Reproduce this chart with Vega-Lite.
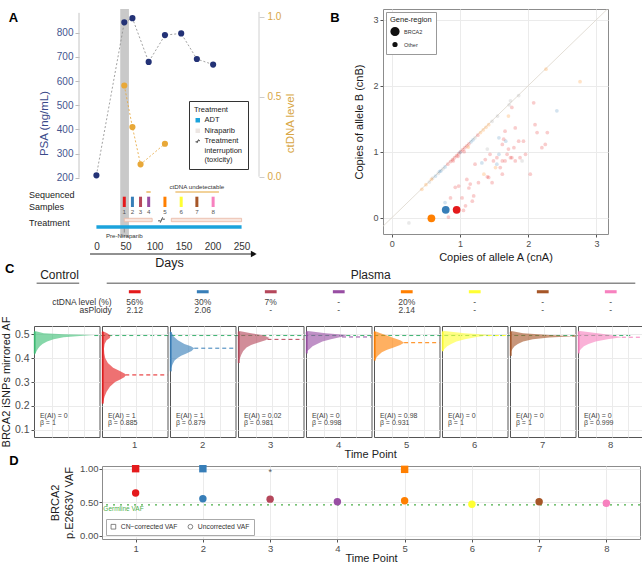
{
"$schema": "https://vega.github.io/schema/vega-lite/v6.json",
"padding": {"left": 0, "top": 8, "right": 0, "bottom": 0},
"background": "white",
"spacing": -7,
"resolve": {"scale": {"color": "independent", "fill": "independent", "stroke": "independent", "size": "independent", "shape": "independent", "opacity": "independent"},
            "legend": {"color": "independent", "fill": "independent", "stroke": "independent", "size": "independent", "shape": "independent", "opacity": "independent"}},
"config": {
  "font": "Liberation Sans",
  "view": {"stroke": null},
  "axis": {"labelFont": "Liberation Sans", "titleFont": "Liberation Sans", "titleFontWeight": "normal", "labelColor": "#4d4d4d", "titleColor": "#1a1a1a", "gridColor": "#ebebeb", "tickColor": "#555555", "domain": false, "labelOverlap": false},
  "legend": {"labelFont": "Liberation Sans", "titleFont": "Liberation Sans", "titleFontWeight": "normal"},
  "header": {"labelFont": "Liberation Sans"},
  "text": {"font": "Liberation Sans"}
},
"datasets": {
  "psa": [{"day":0,"psa":210},{"day":48,"psa":843},{"day":62,"psa":860},{"day":90,"psa":679},{"day":118,"psa":790},{"day":146,"psa":797},{"day":173,"psa":691},{"day":201,"psa":668}],
  "ct": [{"day":48,"ct":0.57},{"day":62,"ct":0.31},{"day":76,"ct":0.077},{"day":118,"ct":0.206}],
  "samples": [{"s":"1","day":48},{"s":"2","day":62},{"s":"3","day":76},{"s":"4","day":90},{"s":"5","day":118},{"s":"6","day":146},{"s":"7","day":173},{"s":"8","day":201}],
  "treat": [{"treat":"ADT","start":0,"end":250},{"treat":"Niraparib","start":48,"end":96},{"treat":"Niraparib","start":129,"end":250}],
  "treatLeg": [{"treat":"ADT","day":48},{"treat":"Niraparib","day":48},{"treat":"Treatment interruption (toxicity)","day":112}],
  "undet": [{"from":86,"to":93.5},{"from":136,"to":211}],
  "cn": [
    {"a":0.44,"b":0.43,"s":"5","g":"Other"},{"a":0.5,"b":0.5,"s":"5","g":"Other"},{"a":0.55,"b":0.54,"s":"o","g":"Other"},{"a":0.6,"b":0.6,"s":"o","g":"Other"},{"a":0.64,"b":0.63,"s":"2","g":"Other"},{"a":0.68,"b":0.67,"s":"o","g":"Other"},{"a":0.72,"b":0.71,"s":"2","g":"Other"},{"a":0.75,"b":0.74,"s":"o","g":"Other"},{"a":0.78,"b":0.77,"s":"2","g":"Other"},{"a":0.82,"b":0.81,"s":"1","g":"Other"},{"a":0.86,"b":0.85,"s":"1","g":"Other"},{"a":0.89,"b":0.88,"s":"1","g":"Other"},{"a":0.92,"b":0.91,"s":"1","g":"Other"},{"a":0.95,"b":0.94,"s":"1","g":"Other"},{"a":0.98,"b":0.97,"s":"1","g":"Other"},{"a":1.01,"b":1.0,"s":"1","g":"Other"},{"a":1.04,"b":1.03,"s":"1","g":"Other"},{"a":1.07,"b":1.06,"s":"1","g":"Other"},{"a":1.1,"b":1.09,"s":"1","g":"Other"},{"a":1.13,"b":1.12,"s":"1","g":"Other"},{"a":1.16,"b":1.15,"s":"2","g":"Other"},{"a":1.19,"b":1.18,"s":"2","g":"Other"},{"a":1.22,"b":1.21,"s":"o","g":"Other"},{"a":1.26,"b":1.25,"s":"1","g":"Other"},{"a":1.3,"b":1.29,"s":"5","g":"Other"},{"a":1.34,"b":1.33,"s":"5","g":"Other"},{"a":1.38,"b":1.37,"s":"5","g":"Other"},{"a":1.42,"b":1.41,"s":"5","g":"Other"},{"a":1.47,"b":1.46,"s":"o","g":"Other"},{"a":1.55,"b":1.54,"s":"o","g":"Other"},{"a":1.72,"b":1.71,"s":"o","g":"Other"},{"a":1.86,"b":1.85,"s":"o","g":"Other"},{"a":2.26,"b":2.25,"s":"5","g":"Other"},{"a":0.97,"b":0.93,"s":"1","g":"Other"},{"a":1.06,"b":1.0,"s":"1","g":"Other"},{"a":1.12,"b":1.07,"s":"5","g":"Other"},{"a":0.9,"b":0.86,"s":"1","g":"Other"},{"a":0.58,"b":0.58,"s":"5","g":"Other"},{"a":0.7,"b":0.7,"s":"2","g":"Other"},{"a":1.0,"b":0.99,"s":"2","g":"Other"},
    {"a":0.25,"b":-0.08,"s":"o","g":"Other"},{"a":0.78,"b":0.23,"s":"2","g":"Other"},{"a":0.83,"b":0.01,"s":"1","g":"Other"},{"a":0.98,"b":0.48,"s":"1","g":"Other"},{"a":0.93,"b":0.46,"s":"1","g":"Other"},{"a":1.13,"b":0.45,"s":"1","g":"Other"},{"a":1.08,"b":0.18,"s":"1","g":"Other"},{"a":1.05,"b":0.11,"s":"1","g":"Other"},{"a":1.18,"b":0.25,"s":"1","g":"Other"},{"a":1.2,"b":0.33,"s":"1","g":"Other"},{"a":1.22,"b":0.81,"s":"1","g":"Other"},{"a":1.32,"b":0.83,"s":"2","g":"Other"},{"a":1.37,"b":0.88,"s":"1","g":"Other"},{"a":1.4,"b":1.04,"s":"o","g":"Other"},{"a":1.42,"b":0.61,"s":"1","g":"Other"},{"a":1.35,"b":0.66,"s":"5","g":"Other"},{"a":1.49,"b":0.86,"s":"1","g":"Other"},{"a":1.54,"b":0.81,"s":"2","g":"Other"},{"a":1.57,"b":1.21,"s":"2","g":"Other"},{"a":1.62,"b":1.11,"s":"1","g":"Other"},{"a":1.64,"b":1.19,"s":"1","g":"Other"},{"a":1.67,"b":1.16,"s":"2","g":"Other"},{"a":1.69,"b":0.96,"s":"1","g":"Other"},{"a":1.71,"b":1.04,"s":"1","g":"Other"},{"a":1.74,"b":0.91,"s":"1","g":"Other"},{"a":1.76,"b":0.91,"s":"1","g":"Other"},{"a":1.79,"b":1.06,"s":"1","g":"Other"},{"a":1.81,"b":0.86,"s":"1","g":"Other"},{"a":1.86,"b":1.16,"s":"1","g":"Other"},{"a":1.88,"b":0.91,"s":"1","g":"Other"},{"a":1.91,"b":0.86,"s":"o","g":"Other"},{"a":1.93,"b":1.16,"s":"1","g":"Other"},{"a":1.96,"b":0.96,"s":"1","g":"Other"},{"a":1.81,"b":1.36,"s":"1","g":"Other"},{"a":1.71,"b":1.54,"s":"5","g":"Other"},{"a":1.76,"b":1.67,"s":"1","g":"Other"},{"a":1.74,"b":1.77,"s":"o","g":"Other"},{"a":1.66,"b":1.31,"s":"1","g":"Other"},{"a":2.08,"b":1.74,"s":"1","g":"Other"},{"a":2.1,"b":1.41,"s":"1","g":"Other"},{"a":2.13,"b":1.29,"s":"1","g":"Other"},{"a":2.28,"b":1.29,"s":"1","g":"Other"},{"a":2.2,"b":1.06,"s":"1","g":"Other"},{"a":2.25,"b":1.11,"s":"1","g":"Other"},{"a":2.42,"b":1.62,"s":"2","g":"Other"},{"a":2.76,"b":2.06,"s":"5","g":"Other"},{"a":2.03,"b":0.66,"s":"1","g":"Other"},{"a":1.62,"b":0.66,"s":"1","g":"Other"},{"a":1.52,"b":0.76,"s":"5","g":"Other"},{"a":1.47,"b":0.53,"s":"1","g":"Other"},{"a":1.4,"b":0.62,"s":"1","g":"Other"},{"a":1.27,"b":0.53,"s":"1","g":"Other"},{"a":1.15,"b":0.51,"s":"1","g":"Other"},{"a":1.1,"b":0.58,"s":"1","g":"Other"},{"a":1.03,"b":0.3,"s":"1","g":"Other"},{"a":0.86,"b":0.3,"s":"1","g":"Other"},{"a":1.57,"b":0.96,"s":"2","g":"Other"},{"a":1.44,"b":0.96,"s":"1","g":"Other"},{"a":1.54,"b":0.91,"s":"1","g":"Other"},{"a":1.62,"b":0.86,"s":"1","g":"Other"},{"a":1.66,"b":0.86,"s":"1","g":"Other"},{"a":1.59,"b":0.76,"s":"1","g":"Other"},
    {"a":0.58,"b":-0.01,"s":"5","g":"BRCA2"},{"a":0.79,"b":0.12,"s":"2","g":"BRCA2"},{"a":0.95,"b":0.12,"s":"1","g":"BRCA2"}
  ],
  "cdat": [
    {"panel":"0","k":"d","af":0.515,"w":0},{"panel":"0","k":"d","af":0.505,"w":0.15},{"panel":"0","k":"d","af":0.5,"w":0.45},{"panel":"0","k":"d","af":0.497,"w":0.92},{"panel":"0","k":"d","af":0.493,"w":0.7},{"panel":"0","k":"d","af":0.488,"w":0.45},{"panel":"0","k":"d","af":0.48,"w":0.3},{"panel":"0","k":"d","af":0.47,"w":0.2},{"panel":"0","k":"d","af":0.46,"w":0.13},{"panel":"0","k":"d","af":0.45,"w":0.09},{"panel":"0","k":"d","af":0.44,"w":0.06},{"panel":"0","k":"d","af":0.43,"w":0.04},{"panel":"0","k":"d","af":0.42,"w":0.02},{"panel":"0","k":"d","af":0.41,"w":0},
    {"panel":"1","k":"d","af":0.515,"w":0},{"panel":"1","k":"d","af":0.505,"w":0.08},{"panel":"1","k":"d","af":0.495,"w":0.13},{"panel":"1","k":"d","af":0.485,"w":0.12},{"panel":"1","k":"d","af":0.475,"w":0.07},{"panel":"1","k":"d","af":0.46,"w":0.04},{"panel":"1","k":"d","af":0.44,"w":0.03},{"panel":"1","k":"d","af":0.42,"w":0.035},{"panel":"1","k":"d","af":0.4,"w":0.05},{"panel":"1","k":"d","af":0.38,"w":0.09},{"panel":"1","k":"d","af":0.36,"w":0.17},{"panel":"1","k":"d","af":0.345,"w":0.28},{"panel":"1","k":"d","af":0.335,"w":0.35},{"panel":"1","k":"d","af":0.328,"w":0.36},{"panel":"1","k":"d","af":0.32,"w":0.34},{"panel":"1","k":"d","af":0.31,"w":0.27},{"panel":"1","k":"d","af":0.3,"w":0.2},{"panel":"1","k":"d","af":0.28,"w":0.12},{"panel":"1","k":"d","af":0.26,"w":0.07},{"panel":"1","k":"d","af":0.24,"w":0.04},{"panel":"1","k":"d","af":0.22,"w":0.02},{"panel":"1","k":"d","af":0.205,"w":0},
    {"panel":"2","k":"d","af":0.515,"w":0},{"panel":"2","k":"d","af":0.505,"w":0.03},{"panel":"2","k":"d","af":0.49,"w":0.06},{"panel":"2","k":"d","af":0.475,"w":0.12},{"panel":"2","k":"d","af":0.46,"w":0.22},{"panel":"2","k":"d","af":0.45,"w":0.32},{"panel":"2","k":"d","af":0.442,"w":0.37},{"panel":"2","k":"d","af":0.43,"w":0.33},{"panel":"2","k":"d","af":0.42,"w":0.25},{"panel":"2","k":"d","af":0.41,"w":0.17},{"panel":"2","k":"d","af":0.4,"w":0.11},{"panel":"2","k":"d","af":0.39,"w":0.07},{"panel":"2","k":"d","af":0.375,"w":0.04},{"panel":"2","k":"d","af":0.36,"w":0.02},{"panel":"2","k":"d","af":0.345,"w":0},
    {"panel":"3","k":"d","af":0.515,"w":0},{"panel":"3","k":"d","af":0.505,"w":0.2},{"panel":"3","k":"d","af":0.495,"w":0.4},{"panel":"3","k":"d","af":0.485,"w":0.48},{"panel":"3","k":"d","af":0.475,"w":0.42},{"panel":"3","k":"d","af":0.465,"w":0.3},{"panel":"3","k":"d","af":0.455,"w":0.2},{"panel":"3","k":"d","af":0.445,"w":0.13},{"panel":"3","k":"d","af":0.43,"w":0.08},{"panel":"3","k":"d","af":0.415,"w":0.05},{"panel":"3","k":"d","af":0.4,"w":0.03},{"panel":"3","k":"d","af":0.385,"w":0.01},{"panel":"3","k":"d","af":0.375,"w":0},
    {"panel":"4","k":"d","af":0.515,"w":0},{"panel":"4","k":"d","af":0.505,"w":0.3},{"panel":"4","k":"d","af":0.497,"w":0.63},{"panel":"4","k":"d","af":0.49,"w":0.55},{"panel":"4","k":"d","af":0.48,"w":0.38},{"panel":"4","k":"d","af":0.47,"w":0.25},{"panel":"4","k":"d","af":0.46,"w":0.17},{"panel":"4","k":"d","af":0.45,"w":0.1},{"panel":"4","k":"d","af":0.44,"w":0.06},{"panel":"4","k":"d","af":0.43,"w":0.02},{"panel":"4","k":"d","af":0.42,"w":0},
    {"panel":"5","k":"d","af":0.515,"w":0},{"panel":"5","k":"d","af":0.505,"w":0.1},{"panel":"5","k":"d","af":0.495,"w":0.2},{"panel":"5","k":"d","af":0.485,"w":0.3},{"panel":"5","k":"d","af":0.475,"w":0.4},{"panel":"5","k":"d","af":0.465,"w":0.46},{"panel":"5","k":"d","af":0.455,"w":0.4},{"panel":"5","k":"d","af":0.445,"w":0.3},{"panel":"5","k":"d","af":0.435,"w":0.2},{"panel":"5","k":"d","af":0.425,"w":0.12},{"panel":"5","k":"d","af":0.41,"w":0.06},{"panel":"5","k":"d","af":0.4,"w":0.03},{"panel":"5","k":"d","af":0.39,"w":0},
    {"panel":"6","k":"d","af":0.515,"w":0},{"panel":"6","k":"d","af":0.505,"w":0.35},{"panel":"6","k":"d","af":0.497,"w":0.75},{"panel":"6","k":"d","af":0.49,"w":0.55},{"panel":"6","k":"d","af":0.48,"w":0.35},{"panel":"6","k":"d","af":0.47,"w":0.22},{"panel":"6","k":"d","af":0.46,"w":0.14},{"panel":"6","k":"d","af":0.45,"w":0.08},{"panel":"6","k":"d","af":0.44,"w":0.04},{"panel":"6","k":"d","af":0.43,"w":0.01},{"panel":"6","k":"d","af":0.425,"w":0},
    {"panel":"7","k":"d","af":0.515,"w":0},{"panel":"7","k":"d","af":0.505,"w":0.2},{"panel":"7","k":"d","af":0.497,"w":0.6},{"panel":"7","k":"d","af":0.492,"w":0.98},{"panel":"7","k":"d","af":0.487,"w":0.6},{"panel":"7","k":"d","af":0.48,"w":0.35},{"panel":"7","k":"d","af":0.47,"w":0.2},{"panel":"7","k":"d","af":0.46,"w":0.12},{"panel":"7","k":"d","af":0.45,"w":0.07},{"panel":"7","k":"d","af":0.44,"w":0.04},{"panel":"7","k":"d","af":0.43,"w":0.02},{"panel":"7","k":"d","af":0.42,"w":0},
    {"panel":"8","k":"d","af":0.515,"w":0},{"panel":"8","k":"d","af":0.505,"w":0.3},{"panel":"8","k":"d","af":0.497,"w":0.5},{"panel":"8","k":"d","af":0.488,"w":0.67},{"panel":"8","k":"d","af":0.48,"w":0.45},{"panel":"8","k":"d","af":0.47,"w":0.27},{"panel":"8","k":"d","af":0.46,"w":0.16},{"panel":"8","k":"d","af":0.45,"w":0.09},{"panel":"8","k":"d","af":0.44,"w":0.05},{"panel":"8","k":"d","af":0.43,"w":0.02},{"panel":"8","k":"d","af":0.42,"w":0},
    {"panel":"0","k":"g","af":0.495,"w":0.92},
    {"panel":"1","k":"m","af":0.33,"w":0.355},{"panel":"2","k":"m","af":0.442,"w":0.37},{"panel":"3","k":"m","af":0.479,"w":0.45},{"panel":"4","k":"m","af":0.489,"w":0.55},{"panel":"5","k":"m","af":0.465,"w":0.46},{"panel":"6","k":"m","af":0.495,"w":0.7},{"panel":"7","k":"m","af":0.493,"w":0.95},{"panel":"8","k":"m","af":0.488,"w":0.67},
    {"panel":"0","k":"s","e":"E(AI) = 0","b":"β = 1","lo":0.42,"hi":0.51},
    {"panel":"1","k":"s","e":"E(AI) = 1","b":"β = 0.885","ct":"56%","pl":"2.12","lo":0.21,"hi":0.51},
    {"panel":"2","k":"s","e":"E(AI) = 1","b":"β = 0.879","ct":"30%","pl":"2.06","lo":0.345,"hi":0.51},
    {"panel":"3","k":"s","e":"E(AI) = 0.02","b":"β = 0.981","ct":"7%","pl":"-","lo":0.38,"hi":0.51},
    {"panel":"4","k":"s","e":"E(AI) = 0","b":"β = 0.998","ct":"-","pl":"-","lo":0.42,"hi":0.51},
    {"panel":"5","k":"s","e":"E(AI) = 0.98","b":"β = 0.931","ct":"20%","pl":"2.14","lo":0.39,"hi":0.51},
    {"panel":"6","k":"s","e":"E(AI) = 0","b":"β = 1","ct":"-","pl":"-","lo":0.43,"hi":0.51},
    {"panel":"7","k":"s","e":"E(AI) = 0","b":"β = 1","ct":"-","pl":"-","lo":0.41,"hi":0.51},
    {"panel":"8","k":"s","e":"E(AI) = 0","b":"β = 0.999","ct":"-","pl":"-","lo":0.42,"hi":0.51},
    {"panel":"0","k":"L","t":"C"},{"panel":"0","k":"L","t":"Control"},{"panel":"0","k":"L","t":"Plasma"},{"panel":"0","k":"L","t":"ctDNA level (%)"},{"panel":"0","k":"L","t":"asPloidy"},{"panel":"0","k":"L","t":"Time Point"}
  ],
  "d": [
    {"tp":1,"type":"CN−corrected VAF","v":1.0},{"tp":2,"type":"CN−corrected VAF","v":1.0},{"tp":5,"type":"CN−corrected VAF","v":0.99},
    {"tp":1,"type":"Uncorrected VAF","v":0.636},{"tp":2,"type":"Uncorrected VAF","v":0.55},{"tp":3,"type":"Uncorrected VAF","v":0.545},{"tp":4,"type":"Uncorrected VAF","v":0.505},{"tp":5,"type":"Uncorrected VAF","v":0.52},{"tp":6,"type":"Uncorrected VAF","v":0.47},{"tp":7,"type":"Uncorrected VAF","v":0.505},{"tp":8,"type":"Uncorrected VAF","v":0.485}
  ]
},
"vconcat": [
  {
    "bounds": "flush", "spacing": 0,
    "resolve": {"scale": {"color": "independent", "fill": "independent", "stroke": "independent", "size": "independent", "shape": "independent", "opacity": "independent"},
                "legend": {"color": "independent", "fill": "independent", "stroke": "independent", "size": "independent", "shape": "independent", "opacity": "independent"}},
    "hconcat": [
      {"width": 77, "height": 1, "data": {"values": []}, "mark": "point", "encoding": {}},
      {
        "width": 180, "height": 228,
        "resolve": {"scale": {"y": "independent"}},
        "layer": [
          {"layer": [
            {"data": {"name": "treatLeg"},
             "mark": {"type": "point", "filled": true, "size": 45, "strokeWidth": 0.9, "opacity": 1},
             "encoding": {
               "x": {"field": "day", "type": "quantitative", "scale": {"domain": [-30, 280], "nice": false, "zero": false},
                     "axis": {"values": [0,50,100,150,200,250], "tickCount": 20, "labelOverlap": false, "title": "Days", "ticks": false, "tickSize": 0, "domain": false, "grid": false, "labelPadding": 4, "labelFontSize": 10, "labelColor": "#333333", "titleFontSize": 12.5, "titlePadding": 5, "titleColor": "#1a1a1a"}},
               "y": {"datum": 21.1, "type": "quantitative", "scale": {"domain": [0, 22.8], "reverse": true, "nice": false, "zero": false}, "axis": null},
               "fill": {"field": "treat", "type": "nominal",
                        "scale": {"domain": ["ADT", "Niraparib", "Treatment interruption (toxicity)"], "range": ["#1ba3dc", "#ece6e3", "#ffffff"]},
                        "legend": {"orient": "none", "legendX": 110, "legendY": 92, "title": "Treatment", "titleFontSize": 7.5, "labelFontSize": 7.5, "symbolSize": 20, "symbolStrokeWidth": 0.9, "padding": 5, "rowPadding": 1.5, "strokeColor": "#333333", "fillColor": "white", "titlePadding": 3, "labelOffset": 3, "labelColor": "#222222", "titleColor": "#222222",
                                   "labelExpr": "datum.value == 'Treatment interruption (toxicity)' ? ['Treatment', 'interruption', '(toxicity)'] : datum.label"}},
               "shape": {"field": "treat", "type": "nominal",
                         "scale": {"domain": ["ADT", "Niraparib", "Treatment interruption (toxicity)"], "range": ["square", "square", "M-1,0.25L-0.3,0.25M-0.35,0.8L0.35,-0.8M0.3,-0.25L1,-0.25"]}},
               "stroke": {"field": "treat", "type": "nominal",
                          "scale": {"domain": ["ADT", "Niraparib", "Treatment interruption (toxicity)"], "range": ["transparent", "transparent", "#333333"]}}
             }},
            {"data": {"values": [{"start": 41, "end": 56}]},
             "mark": {"type": "rect", "color": "#c9c9c9"},
             "encoding": {
               "x": {"field": "start", "type": "quantitative"},
               "x2": {"field": "end"},
               "y": {"datum": 0, "type": "quantitative", "axis": null},
               "y2": {"datum": 22.8}
             }},
            {"data": {"name": "treat"}, "transform": [{"filter": "datum.treat == 'ADT'"}],
             "mark": {"type": "rect", "fill": "#1ba3dc"},
             "encoding": {
               "x": {"field": "start", "type": "quantitative"}, "x2": {"field": "end"},
               "y": {"datum": 21.63, "type": "quantitative", "axis": null}, "y2": {"datum": 21.97}
             }},
            {"data": {"name": "treat"}, "transform": [{"filter": "datum.treat == 'Niraparib'"}],
             "mark": {"type": "rect", "fill": "#f8e6de", "stroke": "#e8b7a4", "strokeWidth": 0.8},
             "encoding": {
               "x": {"field": "start", "type": "quantitative"}, "x2": {"field": "end"},
               "y": {"datum": 20.93, "type": "quantitative", "axis": null}, "y2": {"datum": 21.27}
             }},
            {"data": {"name": "undet"},
             "mark": {"type": "rule", "color": "#e6a537", "strokeWidth": 1.2},
             "encoding": {"x": {"field": "from", "type": "quantitative"}, "x2": {"field": "to"}, "y": {"datum": 18.3, "type": "quantitative", "axis": null}}},
            {"data": {"values": [{"t": "ctDNA undetectable"}]},
             "mark": {"type": "text", "fontSize": 6.2, "color": "#333333"},
             "encoding": {"text": {"field": "t"}, "x": {"datum": 173}, "y": {"datum": 17.75, "type": "quantitative", "axis": null}}},
            {"data": {"name": "samples"},
             "mark": {"type": "rule", "strokeWidth": 3},
             "encoding": {"x": {"field": "day", "type": "quantitative"}, "y": {"datum": 18.77, "type": "quantitative", "axis": null}, "y2": {"datum": 19.8},
                          "color": {"field": "s", "type": "nominal", "scale": {"domain": ["1","2","3","4","5","6","7","8"], "range": ["#E41A1C","#377EB8","#B5475B","#984EA3","#FF7F00","#FFFF33","#A65628","#F781BF"]}, "legend": null}}},
            {"data": {"name": "samples"},
             "mark": {"type": "text", "fontSize": 6.2, "color": "#555555"},
             "encoding": {"text": {"field": "s"}, "x": {"field": "day", "type": "quantitative"}, "y": {"datum": 20.25, "type": "quantitative", "axis": null}}},
            {"data": {"values": [{}]},
             "mark": {"type": "rule", "color": "#666666", "strokeWidth": 0.6},
             "encoding": {"x": {"datum": 48}, "y": {"datum": 21.97, "type": "quantitative", "axis": null}, "y2": {"datum": 22.35}}},
            {"data": {"values": [{"t": "Pre-Niraparib"}]},
             "mark": {"type": "text", "fontSize": 6.2, "color": "#333333"},
             "encoding": {"text": {"field": "t"}, "x": {"datum": 48}, "y": {"datum": 22.68, "type": "quantitative", "axis": null}}},
            {"data": {"values": [{"t": "Sequenced Samples"}]},
             "mark": {"type": "text", "fontSize": 9, "color": "#222222", "align": "left", "baseline": "top", "lineBreak": " ", "lineHeight": 11.5},
             "encoding": {"text": {"field": "t"}, "x": {"datum": -116}, "y": {"datum": 18.2, "type": "quantitative", "axis": null}}},
            {"data": {"values": [{"t": "Treatment"}]},
             "mark": {"type": "text", "fontSize": 9, "color": "#222222", "align": "left"},
             "encoding": {"text": {"field": "t"}, "x": {"datum": -116}, "y": {"datum": 21.43, "type": "quantitative", "axis": null}}},
            {"data": {"values": [{"t": "A"}]},
             "mark": {"type": "text", "fontSize": 13, "fontWeight": "bold", "color": "#000000"},
             "encoding": {"text": {"field": "t"}, "x": {"datum": -143}, "y": {"datum": 0.9, "type": "quantitative", "axis": null}}},
            {"data": {"values": [{}]},
             "mark": {"type": "rule", "color": "#222222", "strokeWidth": 1},
             "encoding": {"x": {"datum": -11}, "x2": {"datum": 268}, "y": {"datum": 24.5, "type": "quantitative", "axis": null}}},
            {"data": {"values": [{}]},
             "mark": {"type": "point", "shape": "triangle-right", "filled": true, "size": 45, "color": "#111111", "opacity": 1},
             "encoding": {"x": {"datum": 271}, "y": {"datum": 24.5, "type": "quantitative", "axis": null}}}
          ]},
          {"layer": [
            {"data": {"values": [{}]},
             "mark": {"type": "rule", "color": "#c4c4c4", "strokeWidth": 1},
             "encoding": {"x": {"datum": -30}, "y": {"datum": 200, "type": "quantitative", "scale": {"domain": [-45.3, 898], "nice": false, "zero": false},
                          "axis": {"orient": "left", "values": [200,300,400,500,600,700,800], "tickCount": 20, "labelOverlap": false, "title": "PSA (ng/mL)", "labelColor": "#44558f", "titleColor": "#3a4a8a", "titleFontSize": 11.5, "labelFontSize": 10, "tickColor": "#bbbbbb", "tickSize": 4, "grid": false, "domain": false, "labelPadding": 2, "titlePadding": 7}},
                          "y2": {"datum": 882}}},
            {"data": {"name": "psa"},
             "mark": {"type": "line", "color": "#8a8a8a", "strokeDash": [2, 2], "strokeWidth": 0.8},
             "encoding": {"x": {"field": "day", "type": "quantitative"}, "y": {"field": "psa", "type": "quantitative"}}},
            {"data": {"name": "psa"},
             "mark": {"type": "circle", "size": 38, "color": "#233276", "opacity": 1},
             "encoding": {"x": {"field": "day", "type": "quantitative"}, "y": {"field": "psa", "type": "quantitative"}}}
          ]},
          {"layer": [
            {"data": {"values": [{}]},
             "mark": {"type": "rule", "color": "#d0d0d0", "strokeWidth": 1},
             "encoding": {"x": {"datum": 280}, "y": {"datum": 0, "type": "quantitative", "scale": {"domain": [-0.377, 1.048], "nice": false, "zero": false},
                          "axis": {"orient": "right", "values": [0, 0.5, 1], "tickCount": 20, "labelOverlap": false, "labelExpr": "format(datum.value, '.1f')", "title": "ctDNA level", "titleAngle": 270, "titleBaseline": "top", "labelColor": "#d8a645", "titleColor": "#d8a645", "titleFontSize": 11.5, "labelFontSize": 10, "tickColor": "#cccccc", "tickSize": 5, "grid": false, "domain": false, "labelPadding": 3, "titlePadding": 4}},
                          "y2": {"datum": 1.03}}},
            {"data": {"name": "ct"},
             "mark": {"type": "line", "color": "#e6a537", "strokeDash": [2, 2], "strokeWidth": 0.8},
             "encoding": {"x": {"field": "day", "type": "quantitative"}, "y": {"field": "ct", "type": "quantitative"}}},
            {"data": {"name": "ct"},
             "mark": {"type": "circle", "size": 38, "color": "#e8a838", "opacity": 1},
             "encoding": {"x": {"field": "day", "type": "quantitative"}, "y": {"field": "ct", "type": "quantitative"}}}
          ]}
        ]
      },
      {"width": 124, "height": 1, "data": {"values": []}, "mark": "point", "encoding": {}},
      {
        "width": 225, "height": 225,
        "view": {"stroke": "#8c8c8c"},
        "layer": [
          {"data": {"values": [{}]},
           "mark": {"type": "rule", "color": "#dcd5cc", "strokeWidth": 0.8, "clip": true},
           "encoding": {
             "x": {"datum": -0.3, "type": "quantitative", "scale": {"domain": [-0.13, 3.17], "nice": false, "zero": false},
                   "axis": {"values": [0,1,2,3], "tickCount": 20, "labelOverlap": false, "labelExpr": "format(datum.value, 'd')", "title": "Copies of allele A (cnA)", "titleFontSize": 11, "labelFontSize": 9, "tickSize": 3, "labelPadding": 2, "titlePadding": 3, "grid": true, "domain": false}},
             "y": {"datum": -0.3, "type": "quantitative", "scale": {"domain": [-0.247, 3.162], "nice": false, "zero": false},
                   "axis": {"values": [0,1,2,3], "tickCount": 20, "labelOverlap": false, "labelExpr": "format(datum.value, 'd')", "title": "Copies of allele B (cnB)", "titleFontSize": 11, "labelFontSize": 9, "tickSize": 3, "labelPadding": 2, "titlePadding": 8, "grid": true, "domain": false}},
             "x2": {"datum": 3.3}, "y2": {"datum": 3.3}
           }},
          {"data": {"name": "cn"},
           "mark": {"type": "circle"},
           "encoding": {
             "x": {"field": "a", "type": "quantitative"},
             "y": {"field": "b", "type": "quantitative"},
             "color": {"field": "s", "type": "nominal", "scale": {"domain": ["1","2","5","o"], "range": ["#E41A1C","#377EB8","#FF7F00","#9a9a9a"]}, "legend": null},
             "size": {"field": "g", "type": "ordinal", "scale": {"domain": ["BRCA2","Other"], "range": [60, 14]},
                      "legend": {"title": "Gene-region", "orient": "top-left", "offset": 3, "strokeColor": "#999999", "fillColor": "white", "padding": 4, "titleFontSize": 7.5, "labelFontSize": 5.5, "rowPadding": 1, "titlePadding": 3, "symbolFillColor": "#111111", "symbolStrokeColor": "#111111", "symbolOpacity": 1, "labelColor": "#333333", "titleColor": "#222222"}},
             "opacity": {"condition": {"test": "datum.g == 'BRCA2'", "value": 1}, "value": 0.22}
           }},
          {"data": {"values": [{"t": "B"}]},
           "mark": {"type": "text", "fontSize": 13, "fontWeight": "bold", "color": "#000000"},
           "encoding": {"text": {"field": "t"}, "x": {"datum": -0.835}, "y": {"datum": 3.026}}}
        ]
      }
    ]
  },
  {
    "bounds": "flush", "spacing": 0,
    "resolve": {"scale": {"color": "independent"}, "legend": {"color": "independent"}},
    "hconcat": [
      {"width": 32, "height": 1, "data": {"values": []}, "mark": "point", "encoding": {}},
      {
        "data": {"name": "cdat"},
        "bounds": "flush",
        "spacing": 2,
        "facet": {"column": {"field": "panel", "type": "nominal",
                   "header": {"labelOrient": "bottom", "labelPadding": 3, "labelFontSize": 9.5, "labelColor": "#4d4d4d", "title": null, "labelExpr": "datum.value == '0' ? '' : datum.value"}}},
        "spec": {
          "width": 65.5, "height": 111,
          "view": {"stroke": "#555555"},
          "layer": [
            {"transform": [{"filter": "datum.k == 'd'"}],
             "mark": {"type": "area", "orient": "horizontal", "opacity": 0.62},
             "encoding": {
               "y": {"field": "af", "type": "quantitative", "scale": {"domain": [0.07, 0.535], "nice": false, "zero": false},
                     "axis": {"title": "BRCA2 iSNPs mirrored AF", "values": [0.1,0.2,0.3,0.4,0.5], "tickCount": 20, "labelOverlap": false, "labelExpr": "format(datum.value, '.1f')", "grid": true, "tickSize": 3, "labelPadding": 2, "labelFontSize": 10.5, "titleFontSize": 11, "titlePadding": 3}},
               "x": {"field": "w", "type": "quantitative", "stack": null, "scale": {"domain": [0, 1], "nice": false, "zero": false},
                     "axis": {"title": null, "labels": false, "ticks": false, "tickSize": 0, "domain": false, "grid": true, "values": [0.27, 0.52, 0.77], "tickCount": 20}},
               "x2": {"datum": 0},
               "color": {"field": "panel", "type": "nominal", "scale": {"domain": ["0","1","2","3","4","5","6","7","8"], "range": ["#3cbf74","#E41A1C","#377EB8","#B5475B","#984EA3","#FF7F00","#FFFF33","#A65628","#F781BF"]}, "legend": null}
             }},
            {"transform": [{"filter": "datum.k == 's'"}],
             "mark": {"type": "rule", "strokeWidth": 2, "opacity": 0.75},
             "encoding": {"x": {"datum": 0.012}, "y": {"field": "lo", "type": "quantitative"}, "y2": {"field": "hi"},
                          "color": {"field": "panel", "type": "nominal", "legend": null}}},
            {"transform": [{"filter": "datum.k == 'g'"}],
             "mark": {"type": "rule", "color": "#3cb371", "strokeDash": [4, 3], "strokeWidth": 1},
             "encoding": {"x": {"field": "w", "type": "quantitative"}, "x2": {"datum": 9.12}, "y": {"field": "af", "type": "quantitative"}}},
            {"transform": [{"filter": "datum.k == 'm'"}],
             "mark": {"type": "rule", "strokeDash": [4, 3], "strokeWidth": 1},
             "encoding": {"x": {"field": "w", "type": "quantitative"}, "x2": {"datum": 1}, "y": {"field": "af", "type": "quantitative"},
                          "color": {"field": "panel", "type": "nominal", "legend": null}}},
            {"transform": [{"filter": "datum.k == 's'"}],
             "mark": {"type": "text", "align": "left", "fontSize": 7, "color": "#444444"},
             "encoding": {"text": {"field": "e"}, "x": {"datum": 0.09}, "y": {"datum": 0.156}}},
            {"transform": [{"filter": "datum.k == 's'"}],
             "mark": {"type": "text", "align": "left", "fontSize": 7, "color": "#444444"},
             "encoding": {"text": {"field": "b"}, "x": {"datum": 0.09}, "y": {"datum": 0.128}}},
            {"transform": [{"filter": "datum.k == 's' && datum.panel != '0'"}],
             "mark": {"type": "text", "fontSize": 8.5, "color": "#444444"},
             "encoding": {"text": {"field": "ct"}, "x": {"datum": 0.5}, "y": {"datum": 0.637}}},
            {"transform": [{"filter": "datum.k == 's' && datum.panel != '0'"}],
             "mark": {"type": "text", "fontSize": 8.5, "color": "#444444"},
             "encoding": {"text": {"field": "pl"}, "x": {"datum": 0.5}, "y": {"datum": 0.601}}},
            {"transform": [{"filter": "datum.k == 's' && datum.panel != '0'"}],
             "mark": {"type": "rect"},
             "encoding": {"x": {"datum": 0.41}, "x2": {"datum": 0.59}, "y": {"datum": 0.672}, "y2": {"datum": 0.685},
                          "color": {"field": "panel", "type": "nominal", "legend": null}}},
            {"transform": [{"filter": "datum.k == 'L' && datum.t == 'C'"}],
             "mark": {"type": "text", "fontSize": 13, "fontWeight": "bold", "color": "#000000"},
             "encoding": {"text": {"field": "t"}, "x": {"datum": -0.37}, "y": {"datum": 0.775}}},
            {"transform": [{"filter": "datum.k == 'L' && datum.t == 'Control'"}],
             "mark": {"type": "text", "fontSize": 12, "color": "#222222"},
             "encoding": {"text": {"field": "t"}, "x": {"datum": 0.39}, "y": {"datum": 0.749}}},
            {"transform": [{"filter": "datum.k == 'L' && datum.t == 'Plasma'"}],
             "mark": {"type": "text", "fontSize": 12, "color": "#222222"},
             "encoding": {"text": {"field": "t"}, "x": {"datum": 5.14}, "y": {"datum": 0.749}}},
            {"transform": [{"filter": "datum.k == 'L' && datum.t == 'ctDNA level (%)'"}],
             "mark": {"type": "text", "fontSize": 8.5, "color": "#333333", "align": "right"},
             "encoding": {"text": {"field": "t"}, "x": {"datum": 1.186}, "y": {"datum": 0.637}}},
            {"transform": [{"filter": "datum.k == 'L' && datum.t == 'asPloidy'"}],
             "mark": {"type": "text", "fontSize": 8.5, "color": "#333333", "align": "right"},
             "encoding": {"text": {"field": "t"}, "x": {"datum": 1.186}, "y": {"datum": 0.601}}},
            {"transform": [{"filter": "datum.k == 'L' && datum.t == 'Time Point'"}],
             "mark": {"type": "text", "fontSize": 11, "color": "#222222"},
             "encoding": {"text": {"field": "t"}, "x": {"datum": 5.14}, "y": {"datum": -0.005}}},
            {"transform": [{"filter": "datum.k == 'L' && datum.t == 'Control'"}],
             "mark": {"type": "rule", "color": "#8a8a8a", "strokeWidth": 1.3},
             "encoding": {"x": {"datum": 0.04}, "x2": {"datum": 0.69}, "y": {"datum": 0.714}}},
            {"transform": [{"filter": "datum.k == 'L' && datum.t == 'Plasma'"}],
             "mark": {"type": "rule", "color": "#8a8a8a", "strokeWidth": 1.3},
             "encoding": {"x": {"datum": 1.11}, "x2": {"datum": 9.18}, "y": {"datum": 0.714}}}
          ]
        }
      }
    ]
  },
  {
    "bounds": "flush", "spacing": 0,
    "resolve": {"scale": {"color": "independent", "shape": "independent"}, "legend": {"color": "independent", "shape": "independent"}},
    "hconcat": [
      {"width": 100, "height": 1, "data": {"values": []}, "mark": "point", "encoding": {}},
      {
        "width": 538, "height": 73,
        "view": {"stroke": "#8c8c8c"},
        "layer": [
          {"data": {"values": [{}]},
           "mark": {"type": "rule", "color": "#4daf4a", "strokeDash": [2, 5], "strokeWidth": 1.3},
           "encoding": {"y": {"datum": 0.46, "type": "quantitative", "scale": {"domain": [-0.05, 1.04], "nice": false, "zero": false},
                              "axis": {"values": [0, 0.5, 1], "tickCount": 20, "labelOverlap": false, "labelExpr": "format(datum.value, '.2f')", "title": ["BRCA2", "p.E2663V VAF"], "titleFontSize": 11, "titleLineHeight": 14, "labelFontSize": 9.5, "tickSize": 3, "labelPadding": 1, "titlePadding": 5, "grid": true, "domain": false}}}},
          {"data": {"values": [{"t": "Germline VAF"}]},
           "mark": {"type": "text", "align": "left", "fontSize": 6.5, "color": "#4daf4a"},
           "encoding": {"text": {"field": "t"}, "x": {"datum": 0.52}, "y": {"datum": 0.40}}},
          {"data": {"name": "d"},
           "mark": {"type": "point", "filled": true, "opacity": 1},
           "encoding": {
             "x": {"field": "tp", "type": "quantitative", "scale": {"domain": [0.5, 8.5], "nice": false, "zero": false},
                   "axis": {"values": [1,2,3,4,5,6,7,8], "tickCount": 20, "labelOverlap": false, "labelExpr": "format(datum.value, 'd')", "title": "Time Point", "titleFontSize": 11, "labelFontSize": 9.5, "tickSize": 3, "labelPadding": 1, "titlePadding": 0, "grid": true, "domain": false}},
             "y": {"field": "v", "type": "quantitative"},
             "color": {"field": "tp", "type": "nominal", "scale": {"domain": [1,2,3,4,5,6,7,8], "range": ["#E41A1C","#377EB8","#B5475B","#984EA3","#FF7F00","#FFFF33","#A65628","#F781BF"]}, "legend": null},
             "size": {"value": 55},
             "shape": {"field": "type", "type": "nominal", "scale": {"domain": ["CN−corrected VAF", "Uncorrected VAF"], "range": ["square", "circle"]},
                       "legend": {"orient": "bottom-left", "direction": "horizontal", "title": null, "offset": 4, "strokeColor": "#aaaaaa", "fillColor": "white", "padding": 4, "labelFontSize": 6.8, "symbolSize": 22, "symbolFillColor": "white", "symbolStrokeColor": "#666666", "symbolStrokeWidth": 0.8, "columnPadding": 8, "labelColor": "#333333"}}
           }},
          {"data": {"values": [{"tp": 3, "v": 1.0}]},
           "mark": {"type": "text", "text": "*", "fontSize": 9, "color": "#555555", "dy": 3},
           "encoding": {"x": {"field": "tp", "type": "quantitative"}, "y": {"field": "v", "type": "quantitative"}}},
          {"data": {"values": [{"t": "D"}]},
           "mark": {"type": "text", "fontSize": 13, "fontWeight": "bold", "color": "#000000"},
           "encoding": {"text": {"field": "t"}, "x": {"datum": -0.81}, "y": {"datum": 1.121}}}
        ]
      }
    ]
  }
]
}
